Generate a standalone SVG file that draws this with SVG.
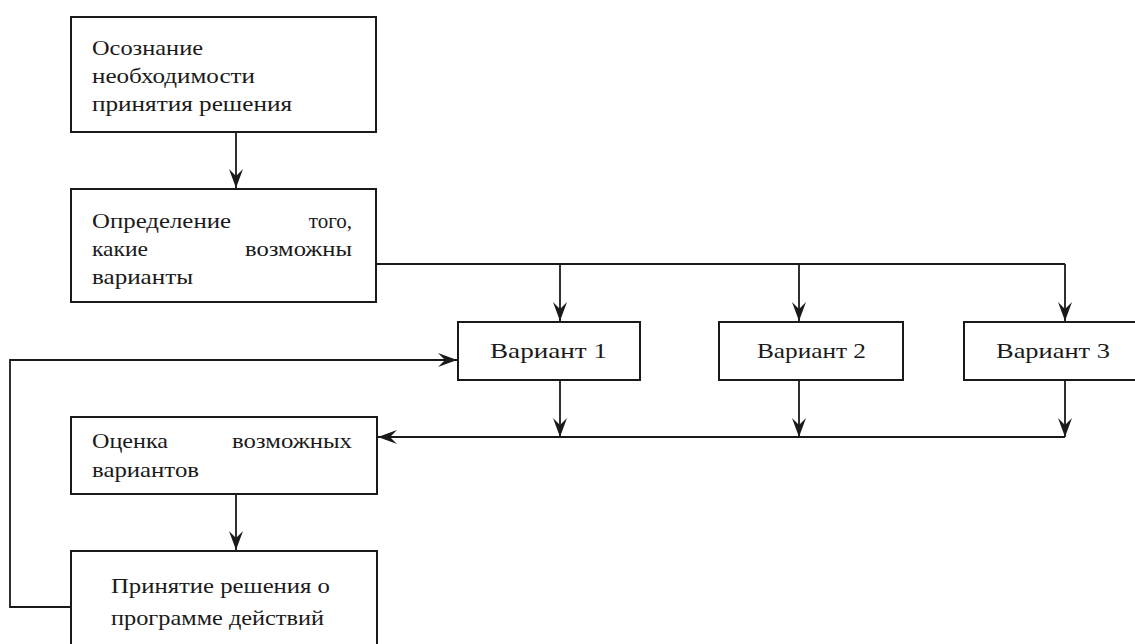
<svg xmlns="http://www.w3.org/2000/svg" width="1135" height="644" viewBox="0 0 1135 644">
<style>
.box{fill:#fff;stroke:#1a1a1a;stroke-width:2}
.ln{fill:none;stroke:#1a1a1a;stroke-width:1.8}
text{font-family:"Liberation Serif","Times New Roman",serif;font-size:21px;fill:#1a1a1a}
</style>
<defs>
<marker id="ah" viewBox="-20 -8 22 16" refX="0" refY="0" markerWidth="22" markerHeight="16" markerUnits="userSpaceOnUse" orient="auto">
<path d="M0,0 L-19,-7 L-12,0 L-19,7 Z" fill="#1a1a1a"/>
</marker>
</defs>
<rect width="1135" height="644" fill="#fff"/>
<g id="connectors">
<line class="ln" x1="236" y1="132" x2="236" y2="188" marker-end="url(#ah)"/>
<polyline class="ln" points="376,264 1065,264"/>
<line class="ln" x1="560" y1="264" x2="560" y2="321" marker-end="url(#ah)"/>
<line class="ln" x1="799" y1="264" x2="799" y2="321" marker-end="url(#ah)"/>
<line class="ln" x1="1065" y1="264" x2="1065" y2="321" marker-end="url(#ah)"/>
<line class="ln" x1="560" y1="380" x2="560" y2="437" marker-end="url(#ah)"/>
<line class="ln" x1="799" y1="380" x2="799" y2="437" marker-end="url(#ah)"/>
<line class="ln" x1="1065" y1="380" x2="1065" y2="437" marker-end="url(#ah)"/>
<line class="ln" x1="1065" y1="437" x2="378" y2="437" marker-end="url(#ah)"/>
<line class="ln" x1="236" y1="494" x2="236" y2="550" marker-end="url(#ah)"/>
<polyline class="ln" points="71,607 10,607 10,360 457,360" marker-end="url(#ah)"/>
</g>
<g id="n1">
<rect class="box" x="71" y="17" width="305" height="115"/>
<text x="92" y="55" textLength="111" lengthAdjust="spacingAndGlyphs">Осознание</text>
<text x="92" y="83" textLength="163" lengthAdjust="spacingAndGlyphs">необходимости</text>
<text x="92" y="111" textLength="200" lengthAdjust="spacingAndGlyphs">принятия решения</text>
</g>
<g id="n2">
<rect class="box" x="71" y="189" width="305" height="113"/>
<text x="92" y="228" textLength="139" lengthAdjust="spacingAndGlyphs">Определение</text>
<text x="352" y="228" text-anchor="end">того,</text>
<text x="92" y="256" textLength="56" lengthAdjust="spacingAndGlyphs">какие</text>
<text x="352" y="256" text-anchor="end" textLength="107" lengthAdjust="spacingAndGlyphs">возможны</text>
<text x="92" y="284" textLength="101" lengthAdjust="spacingAndGlyphs">варианты</text>
</g>
<g id="v1">
<rect class="box" x="458" y="322" width="182" height="58"/>
<text x="490" y="358" textLength="117" lengthAdjust="spacingAndGlyphs">Вариант 1</text>
</g>
<g id="v2">
<rect class="box" x="719" y="322" width="184" height="58"/>
<text x="757" y="358" textLength="109" lengthAdjust="spacingAndGlyphs">Вариант 2</text>
</g>
<g id="v3">
<rect class="box" x="964" y="322" width="180" height="58"/>
<text x="996" y="358" textLength="114" lengthAdjust="spacingAndGlyphs">Вариант 3</text>
</g>
<g id="n3">
<rect class="box" x="71" y="417" width="306" height="77"/>
<text x="92" y="448" textLength="76" lengthAdjust="spacingAndGlyphs">Оценка</text>
<text x="352" y="448" text-anchor="end" textLength="120" lengthAdjust="spacingAndGlyphs">возможных</text>
<text x="92" y="477" textLength="107" lengthAdjust="spacingAndGlyphs">вариантов</text>
</g>
<g id="n4">
<rect class="box" x="71" y="551" width="306" height="110"/>
<text x="111" y="593" textLength="219" lengthAdjust="spacingAndGlyphs">Принятие решения о</text>
<text x="111" y="625" textLength="213" lengthAdjust="spacingAndGlyphs">программе действий</text>
</g>
</svg>
